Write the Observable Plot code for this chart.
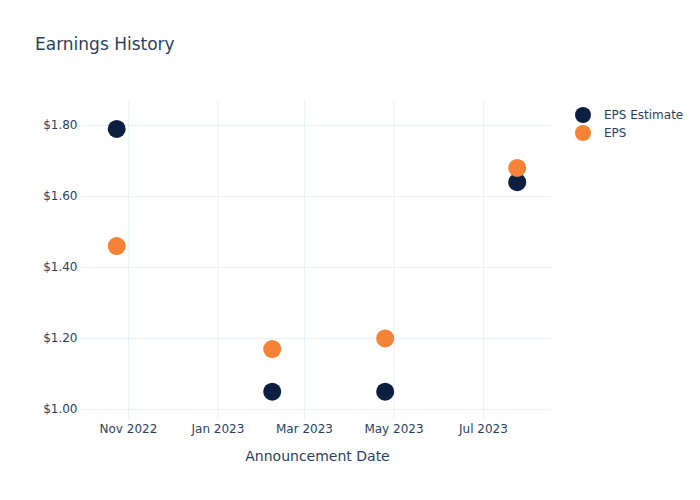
<!DOCTYPE html>
<html>
<head>
<meta charset="utf-8">
<script src="https://cdn.jsdelivr.net/npm/d3@7"></script>
<script src="https://cdn.jsdelivr.net/npm/@observablehq/plot@0.6"></script>
<style>
  body { margin: 0; background: #fff; }
  #wrap { position: relative; width: 700px; height: 500px; font-family: "DejaVu Sans", sans-serif; color: #2a3f5f; }
  #title { position: absolute; left: 35px; top: 36px; font-size: 17px; line-height: 1; }
  #legend { position: absolute; left: 575px; top: 106px; font-size: 12px; }
  .item { display: flex; align-items: center; height: 18px; }
  .sw { width: 16px; height: 16px; border-radius: 50%; margin-right: 13px; }
</style>
</head>
<body>
<div id="wrap">
  <div id="chart"></div>
  <div id="title">Earnings History</div>
  <div id="legend"></div>
</div>
<script>
const dates = ["2022-10-24", "2023-02-07", "2023-04-25", "2023-07-24"];
const epsEstimate = [1.79, 1.05, 1.05, 1.64];
const eps = [1.46, 1.17, 1.20, 1.68];
const seriesNames = ["EPS Estimate", "EPS"];
const seriesColors = ["#0c1f40", "#f58236"];
const xTicks = ["2022-11-01", "2023-01-01", "2023-03-01", "2023-05-01", "2023-07-01"];
const yTicks = [1.0, 1.2, 1.4, 1.6, 1.8];
const xDomain = ["2022-09-30", "2023-08-17T18:00"];
const yDomain = [0.969, 1.87];

const rows = [];
dates.forEach((d, i) => {
  rows.push({date: new Date(d), value: epsEstimate[i], series: seriesNames[0]});
});
dates.forEach((d, i) => {
  rows.push({date: new Date(d), value: eps[i], series: seriesNames[1]});
});
const xt = xTicks.map(d => new Date(d));

const plot = Plot.plot({
  width: 700,
  height: 500,
  marginLeft: 81,
  marginRight: 147,
  marginTop: 100,
  marginBottom: 80,
  style: {fontFamily: "DejaVu Sans, sans-serif", fontSize: "12px", color: "#2a3f5f", background: "#fff"},
  x: {type: "utc", domain: [new Date(xDomain[0]), new Date(xDomain[1] + "Z")], ticks: xt, tickFormat: d3.utcFormat("%b %Y"), tickSize: 0, tickPadding: 4, label: "Announcement Date", labelAnchor: "center", labelArrow: "none", labelOffset: 40},
  y: {domain: yDomain, ticks: yTicks, tickFormat: d => "$" + d.toFixed(2), tickSize: 0, tickPadding: 4, label: null},
  color: {domain: seriesNames, range: seriesColors},
  marks: [
    Plot.gridX(xt, {stroke: "#ebf0f8", strokeOpacity: 1, strokeWidth: 1}),
    Plot.gridY(yTicks, {stroke: "#ebf0f8", strokeOpacity: 1, strokeWidth: 1}),
    Plot.dot(rows, {x: "date", y: "value", fill: "series", r: 9, stroke: null})
  ]
});
document.getElementById("chart").appendChild(plot);
d3.select(plot).selectAll("[aria-label='x-axis label'] text").style("font-size", "14px");

const legend = document.getElementById("legend");
seriesNames.forEach((n, i) => {
  const it = document.createElement("div");
  it.className = "item";
  const sw = document.createElement("span");
  sw.className = "sw";
  sw.style.background = seriesColors[i];
  const t = document.createElement("span");
  t.textContent = n;
  it.appendChild(sw); it.appendChild(t);
  legend.appendChild(it);
});
</script>
</body>
</html>
